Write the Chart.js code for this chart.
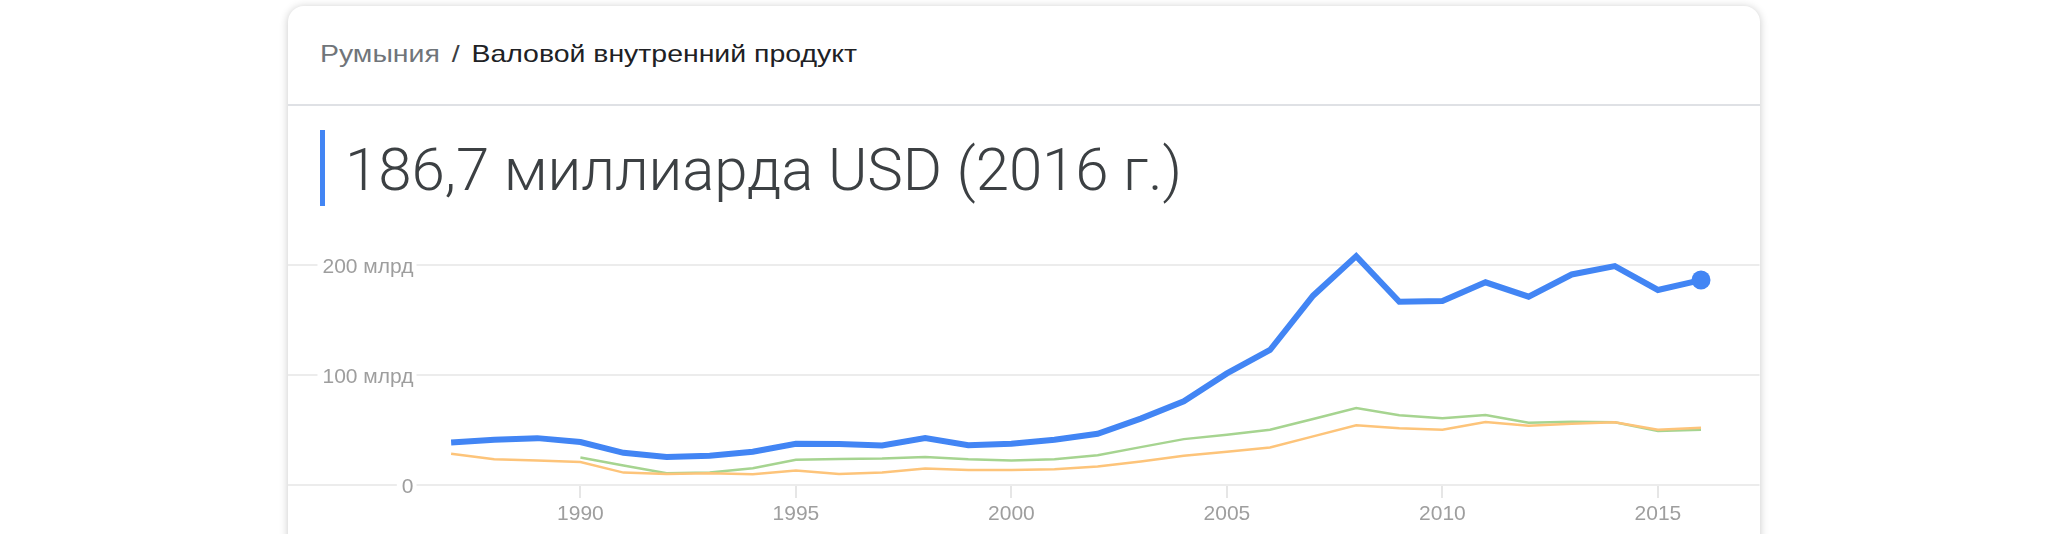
<!DOCTYPE html>
<html>
<head>
<meta charset="utf-8">
<script src="https://cdn.jsdelivr.net/npm/chart.js@4.4.1/dist/chart.umd.min.js"></script>
<style>
html,body{margin:0;padding:0;background:#fff;width:2048px;height:534px;overflow:hidden;}
.card{position:absolute;left:288px;top:6px;width:1472px;height:620px;background:#fff;border-radius:16px;box-shadow:0 1px 8px rgba(0,0,0,0.22);overflow:hidden;}
.crumb{position:absolute;left:32px;top:36px;font-size:24px;line-height:24px;font-family:"Liberation Sans",Arial,sans-serif;color:#202124;white-space:nowrap;transform-origin:0 50%;}
.crumb .c1{color:#70757a;}
.crumb .sl{color:#3c4043;margin:0 10px;}
.sep{position:absolute;left:0;width:1472px;top:98px;height:2px;background:#dfe1e5;}
.bar{position:absolute;left:32px;top:124px;width:5px;height:76px;background:#4285f4;}
.title{position:absolute;left:57px;top:134px;font-size:60px;line-height:60px;font-weight:300;font-family:Roboto,"Liberation Sans",sans-serif;color:#3c4043;white-space:nowrap;}
#wrap{position:absolute;left:0;top:216px;width:1472px;height:312px;}
#wrap canvas{display:block;}
</style>
</head>
<body>
<div class="card">
  <div class="crumb" id="crumb"><span class="c1">Румыния</span><span class="sl">/</span><span>Валовой внутренний продукт</span></div>
  <div class="sep"></div>
  <div class="bar"></div>
  <div class="title" id="title">186,7 миллиарда USD (2016 г.)</div>
  <div id="wrap"></div>
</div>
<script>
// ---- data ----
const years = [1987,1988,1989,1990,1991,1992,1993,1994,1995,1996,1997,1998,1999,2000,2001,2002,2003,2004,2005,2006,2007,2008,2009,2010,2011,2012,2013,2014,2015,2016];
const gdpTotal = [38.8,41.2,42.7,39.2,29.3,25.5,26.7,30.3,37.6,37.3,36.0,42.7,36.2,37.6,41.2,46.7,60.5,76.3,101.7,123.0,172.5,208.5,167.0,167.6,184.7,171.6,191.8,199.4,177.7,186.7];
const seriesOrange = [28.4,23.5,22.3,21.0,11.3,10.1,10.7,9.8,13.1,10.1,11.3,15.0,13.7,13.7,14.4,16.8,21.4,26.6,30.2,34.2,44.3,54.4,51.6,50.4,57.4,54.0,55.9,57.1,50.4,52.2];
const seriesGreen = [null,null,null,25.0,17.7,10.7,11.3,15.3,22.9,23.8,24.1,25.6,23.5,22.3,23.5,27.2,34.5,41.8,45.8,50.4,60.2,70.2,63.5,60.8,63.8,56.8,57.7,57.1,49.2,50.4];
const yTickValues = [0,100,200];
const yTickLabels = ['0','100 млрд','200 млрд'];
const xTickValues = [1990,1995,2000,2005,2010,2015];

// ---- layout helpers ----
const labelFont = '21px "Liberation Sans", Arial, sans-serif';
const mctx = document.createElement('canvas').getContext('2d');
mctx.font = labelFont;
const widest = Math.max(...yTickLabels.map(t => mctx.measureText(t).width));
const labelRight = 126;          // right edge of y labels inside the card
const areaW = 1472, areaH = 263, areaTop = 216;   // desired plot area in card coords

function fitSpacing(el, target){
  const w = el.getBoundingClientRect().width;
  const n = el.textContent.length;
  el.style.letterSpacing = ((target - w) / n) + 'px';
}
function fitScale(el, target){
  const w = el.getBoundingClientRect().width;
  el.style.transform = 'scaleX(' + (target / w) + ')';
}

const toXY = arr => years.map((y,i) => ({x:y, y:arr[i]}));
const lastIdx = years.length - 1;

Chart.defaults.font.family = '"Liberation Sans", Arial, sans-serif';

function makeConfig(){
  return {
    type: 'line',
    data: {
      datasets: [
        {data: toXY(gdpTotal), borderColor:'#4285f4', backgroundColor:'#4285f4', borderWidth:6,
         pointRadius: ctx => ctx.dataIndex === lastIdx ? 9.5 : 0, pointBorderWidth:0, pointHoverRadius:0, tension:0},
        {data: toXY(seriesOrange), borderColor:'#fdc47a', borderWidth:2.5, pointRadius:0, tension:0},
        {data: toXY(seriesGreen), borderColor:'#a6d490', borderWidth:2.5, pointRadius:0, tension:0, spanGaps:false}
      ]
    },
    options: {
      responsive:false, maintainAspectRatio:false, animation:false, devicePixelRatio:1,
      layout:{padding:0},
      plugins:{legend:{display:false}, tooltip:{enabled:false}},
      events:[],
      scales:{
        x:{
          type:'linear', position:'bottom',
          min: 1983.204, max: 2017.357,
          afterBuildTicks: s => { s.ticks = xTickValues.map(v => ({value:v})); },
          afterFit: s => { s.height = 49; },
          grid:{drawOnChartArea:false, drawTicks:true, tickLength:13, color:'#e6e6e6', lineWidth:2},
          border:{display:false},
          ticks:{color:'#9e9e9e', font:{size:21}, padding:4, maxRotation:0, autoSkip:false, callback: v => String(v)}
        },
        y:{
          type:'linear', position:'left', min:0, max:240,
          afterBuildTicks: s => { s.ticks = yTickValues.map(v => ({value:v})); },
          afterFit: s => { s.width = 0; },
          grid:{color:'#ececec', lineWidth:2, drawTicks:false},
          border:{display:false},
          ticks:{mirror:true, crossAlign:'far', padding: labelRight - widest, color:'#9e9e9e', font:{size:21},
            labelOffset:2,
            showLabelBackdrop:true, backdropColor:'#ffffff', backdropPadding:{left:5,right:3,top:0,bottom:0},
            callback: v => yTickLabels[yTickValues.indexOf(v)]}
        }
      }
    }
  };
}

const wrap = document.getElementById('wrap');
let chart = null;
function build(w, h, left, top){
  if (chart) chart.destroy();
  wrap.innerHTML = '';
  wrap.style.left = left + 'px'; wrap.style.top = top + 'px';
  wrap.style.width = w + 'px'; wrap.style.height = h + 'px';
  const cv = document.createElement('canvas');
  cv.width = w; cv.height = h;
  wrap.appendChild(cv);
  chart = new Chart(cv, makeConfig());
  return chart.chartArea;
}
// place the plot area exactly on the card: measure the library's insets, then rebuild
let W = areaW, H = 312, L = 0, T = areaTop;
for (let k = 0; k < 3; k++) {
  const ca = build(W, H, L, T);
  const iL = ca.left, iT = ca.top, iR = W - ca.right, iB = H - ca.bottom;
  W = Math.round(areaW + iL + iR); H = Math.round(areaH + iT + iB);
  L = -Math.round(iL); T = Math.round(areaTop - iT);
}
build(W, H, L, T);

fitSpacing(document.getElementById('title'), 837);
fitScale(document.getElementById('crumb'), 537);
</script>
</body>
</html>
